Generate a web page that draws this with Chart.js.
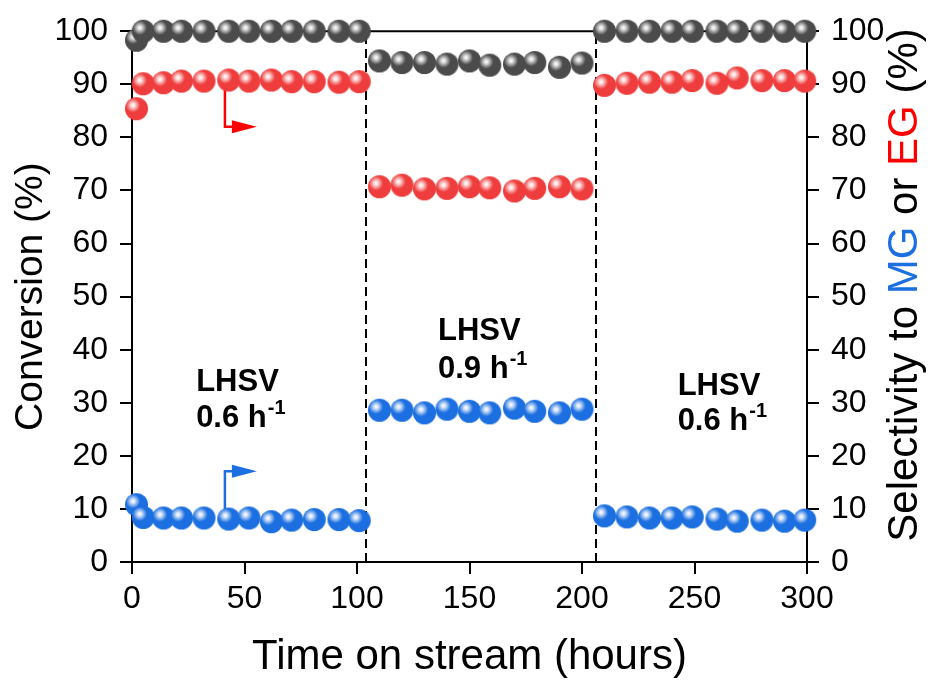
<!DOCTYPE html>
<html>
<head>
<meta charset="utf-8">
<script src="https://cdn.jsdelivr.net/npm/chart.js@4.4.1/dist/chart.umd.min.js"></script>
<style>
  html, body { margin: 0; padding: 0; background: #ffffff; }
  #wrap { width: 930px; height: 682px; }
</style>
</head>
<body>
<div id="wrap"><canvas id="chart" width="930" height="682"></canvas></div>
<script>
// Time on stream (hours) for the three LHSV periods
const timeA = [2, 5, 14, 22, 32, 43, 52, 62, 71, 81, 92, 101];
const timeB = [110, 120, 130, 140, 150, 159, 170, 179, 190, 200];
const timeC = [210, 220, 230, 240, 249, 260, 269, 280, 290, 299];

// Conversion (%)
const conversionA = [98.3, 100, 100, 100, 100, 100, 100, 100, 100, 100, 100, 100];
const conversionB = [94.4, 94.1, 94.1, 93.8, 94.4, 93.6, 93.8, 94.1, 93.2, 94.0];
const conversionC = [100, 100, 100, 100, 100, 100, 100, 100, 100, 100];

// Selectivity to EG (%)
const egA = [85.4, 90.1, 90.3, 90.6, 90.6, 90.8, 90.6, 90.8, 90.5, 90.5, 90.4, 90.5];
const egB = [70.7, 71.0, 70.3, 70.4, 70.7, 70.5, 69.9, 70.4, 70.7, 70.3];
const egC = [89.8, 90.2, 90.4, 90.4, 90.7, 90.2, 91.2, 90.7, 90.7, 90.6];

// Selectivity to MG (%)
const mgA = [10.8, 8.4, 8.3, 8.3, 8.3, 8.1, 8.3, 7.6, 7.9, 8.0, 8.0, 7.8];
const mgB = [28.6, 28.6, 28.1, 28.8, 28.4, 28.1, 29.0, 28.4, 28.1, 28.8];
const mgC = [8.7, 8.5, 8.3, 8.3, 8.5, 8.1, 7.7, 7.9, 7.7, 7.9];

// Period boundaries (hours) and axis ticks
const periodBreaks = [104, 206];
const xTicks = [0, 50, 100, 150, 200, 250, 300];
const yTicks = [0, 10, 20, 30, 40, 50, 60, 70, 80, 90, 100];

// Period labels: [hours at left edge, value at first line, value at second line, LHSV]
const periodLabels = [
  [28.5, 33.8, 27.0, '0.6'],
  [136, 43.4, 36.3, '0.9'],
  [242.5, 33.1, 26.4, '0.6']
];

const COLORS = { conv: '#4b4b4b', eg: '#ef3d3d', mg: '#1b6fe0' };
const FONT = '"Liberation Sans", Arial, Helvetica, sans-serif';

function toPoints(xs, ys) { return xs.map((x, i) => ({ x: x, y: ys[i] })); }

// Shaded sphere marker
function sphere(color, r) {
  const c = document.createElement('canvas');
  const s = Math.ceil(r * 2 + 2);
  c.width = s; c.height = s;
  const g = c.getContext('2d');
  const cx = s / 2, cy = s / 2;
  g.beginPath(); g.arc(cx, cy, r, 0, Math.PI * 2); g.fillStyle = color; g.fill();
  const hx = cx - r * 0.3, hy = cy - r * 0.3;
  const grad = g.createRadialGradient(hx, hy, 0, hx, hy, r * 0.62);
  grad.addColorStop(0, 'rgba(255,255,255,1)');
  grad.addColorStop(0.25, 'rgba(255,255,255,0.85)');
  grad.addColorStop(1, 'rgba(255,255,255,0)');
  g.beginPath(); g.arc(cx, cy, r, 0, Math.PI * 2); g.fillStyle = grad; g.fill();
  return c;
}

const R = 11.5;

function seriesDataset(xsList, ysList, color, axis) {
  let pts = [];
  xsList.forEach((xs, k) => { pts = pts.concat(toPoints(xs, ysList[k])); });
  return {
    data: pts,
    yAxisID: axis,
    showLine: false,
    pointStyle: sphere(color, R),
    pointRadius: R,
    pointHoverRadius: R,
    backgroundColor: color,
    borderColor: color,
    clip: false
  };
}

const decorations = {
  id: 'decorations',
  beforeDatasetsDraw(chart) {
    const ctx = chart.ctx, x = chart.scales.x, y = chart.scales.y;
    const area = chart.chartArea;
    ctx.save();
    // top frame line
    ctx.strokeStyle = '#000'; ctx.lineWidth = 2;
    ctx.beginPath(); ctx.moveTo(area.left, area.top); ctx.lineTo(area.right, area.top); ctx.stroke();
    // period boundaries
    ctx.setLineDash([9, 5]);
    periodBreaks.forEach(t => {
      const px = Math.round(x.getPixelForValue(t));
      ctx.beginPath(); ctx.moveTo(px, y.getPixelForValue(0)); ctx.lineTo(px, y.getPixelForValue(100)); ctx.stroke();
    });
    ctx.setLineDash([]);
    // arrows pointing to the right axis
    const arrow = (color, yFrom, yTo) => {
      const xs = x.getPixelForValue(41.3);
      const y0 = y.getPixelForValue(yFrom), y1 = y.getPixelForValue(yTo);
      const xb = x.getPixelForValue(44.4), xt = x.getPixelForValue(55.5);
      ctx.strokeStyle = color; ctx.fillStyle = color; ctx.lineWidth = 2.5;
      ctx.beginPath(); ctx.moveTo(xs, y0); ctx.lineTo(xs, y1); ctx.lineTo(xb + 1, y1); ctx.stroke();
      ctx.beginPath();
      ctx.moveTo(xb, y1 - 6.5); ctx.lineTo(xt, y1); ctx.lineTo(xb, y1 + 6.5); ctx.closePath(); ctx.fill();
    };
    arrow('#ff0000', 89, 82.0);
    arrow(COLORS.mg, 9, 17.1);
    ctx.restore();
  },
  afterDraw(chart) {
    const ctx = chart.ctx, x = chart.scales.x, y = chart.scales.y;
    const area = chart.chartArea;
    ctx.save();
    ctx.fillStyle = '#000';
    ctx.textBaseline = 'middle';
    // period labels
    periodLabels.forEach(p => {
      const px = x.getPixelForValue(p[0]);
      ctx.font = 'bold 31px ' + FONT;
      ctx.textAlign = 'left';
      ctx.fillText('LHSV', px, y.getPixelForValue(p[1]));
      const line2 = p[3] + ' h';
      const py = y.getPixelForValue(p[2]);
      ctx.fillText(line2, px, py);
      const w = ctx.measureText(line2).width;
      ctx.font = 'bold 20px ' + FONT;
      ctx.fillText('-1', px + w + 1, py - 10);
    });
    // axis titles
    ctx.textAlign = 'center';
    ctx.font = '42px ' + FONT;
    ctx.fillText('Time on stream (hours)', (area.left + area.right) / 2, 657);
    ctx.font = '39px ' + FONT;
    ctx.save();
    ctx.translate(31, (area.top + area.bottom) / 2);
    ctx.rotate(-Math.PI / 2);
    ctx.fillText('Conversion (%)', 0, 0);
    ctx.restore();
    // right title with coloured product names
    const parts = [['Selectivity to ', '#000'], ['MG', COLORS.mg], [' or ', '#000'], ['EG', '#ff0000'], [' (%)', '#000']];
    ctx.font = '42px ' + FONT;
    const total = parts.reduce((s, p) => s + ctx.measureText(p[0]).width, 0);
    ctx.save();
    ctx.translate(905, 285);
    ctx.rotate(-Math.PI / 2);
    ctx.textAlign = 'left';
    let cx = -total / 2;
    parts.forEach(p => { ctx.fillStyle = p[1]; ctx.fillText(p[0], cx, 0); cx += ctx.measureText(p[0]).width; });
    ctx.restore();
    ctx.restore();
  }
};

const axisCommon = {
  border: { display: true, color: '#000', width: 2 },
  grid: { display: true, drawOnChartArea: false, drawTicks: true, tickLength: 12, color: '#000', lineWidth: 2 },
};

new Chart(document.getElementById('chart'), {
  type: 'scatter',
  data: {
    datasets: [
      seriesDataset([timeA, timeB, timeC], [conversionA, conversionB, conversionC], COLORS.conv, 'y'),
      seriesDataset([timeA, timeB, timeC], [egA, egB, egC], COLORS.eg, 'y2'),
      seriesDataset([timeA, timeB, timeC], [mgA, mgB, mgC], COLORS.mg, 'y2')
    ]
  },
  options: {
    responsive: false,
    animation: false,
    devicePixelRatio: 1,
    layout: { padding: { top: 28, left: 0, right: 0, bottom: 0 } },
    plugins: { legend: { display: false }, tooltip: { enabled: false } },
    scales: {
      x: {
        type: 'linear', min: 0, max: 300,
        afterBuildTicks: s => { s.ticks = xTicks.map(v => ({ value: v })); },
        ticks: { color: '#000', font: { family: FONT, size: 32 }, padding: 6, maxRotation: 0 },
        afterFit: s => { s.height = 120; },
        ...axisCommon
      },
      y: {
        position: 'left', min: 0, max: 100,
        afterBuildTicks: s => { s.ticks = yTicks.map(v => ({ value: v })); },
        ticks: { color: '#000', font: { family: FONT, size: 32 }, padding: 12 },
        afterFit: s => { s.width = 132; },
        ...axisCommon
      },
      y2: {
        position: 'right', min: 0, max: 100,
        afterBuildTicks: s => { s.ticks = yTicks.map(v => ({ value: v })); },
        ticks: { color: '#000', font: { family: FONT, size: 32 }, padding: 12 },
        afterFit: s => { s.width = 123; },
        ...axisCommon
      }
    }
  },
  plugins: [decorations]
});
</script>
</body>
</html>
